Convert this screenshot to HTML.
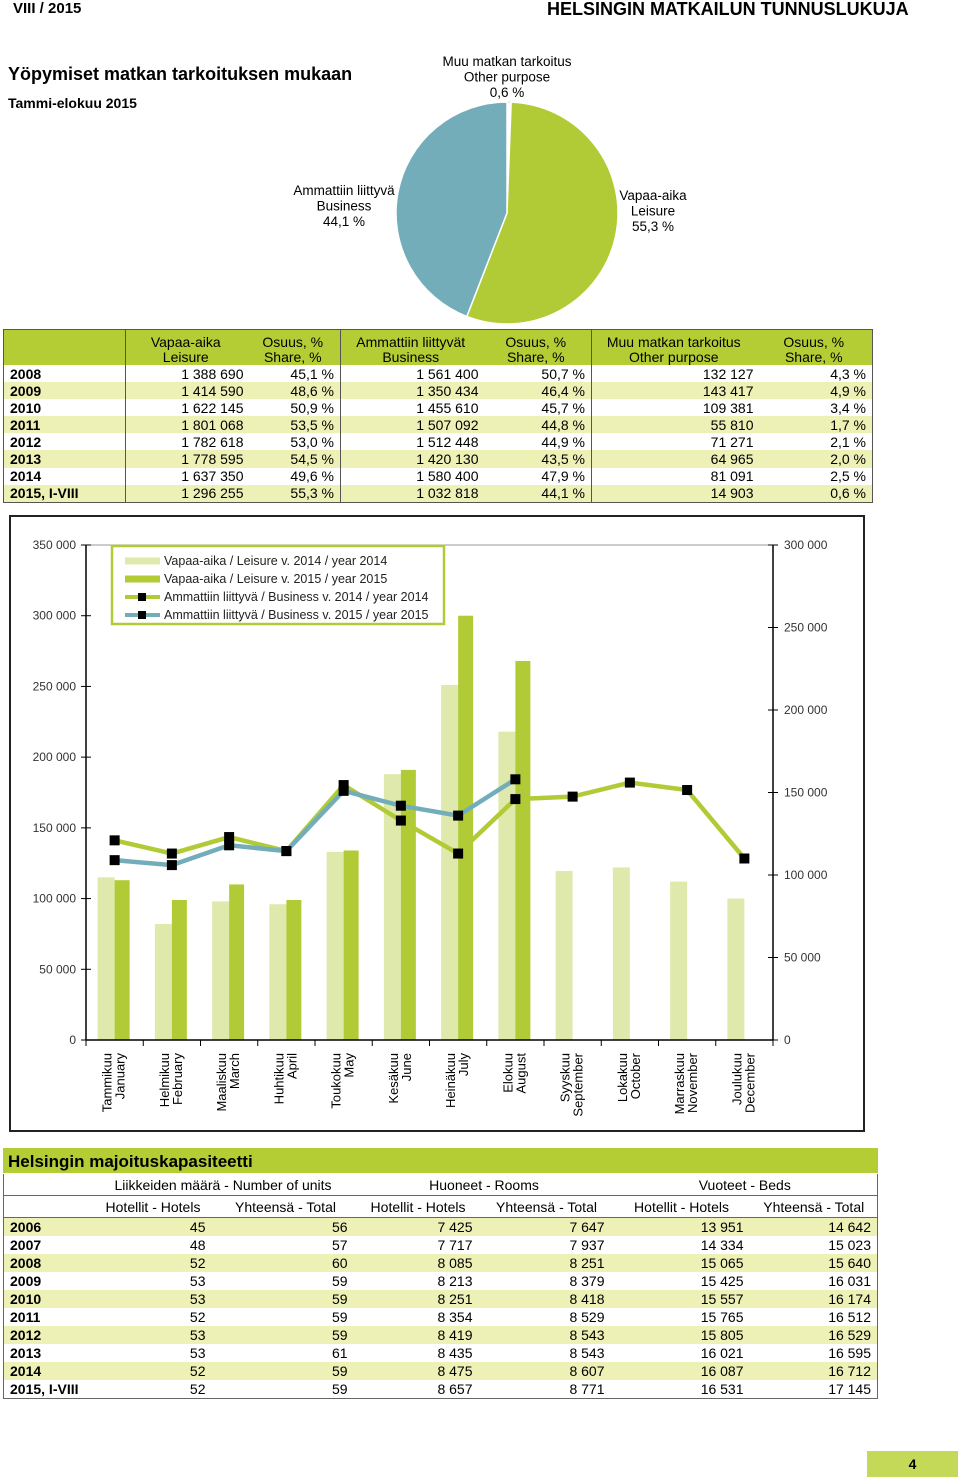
<!DOCTYPE html>
<html><head><meta charset="utf-8">
<style>
body{margin:0;width:960px;height:1484px;position:relative;background:#fff;font-family:"Liberation Sans",Arial,sans-serif;color:#000;overflow:hidden}
.abs{position:absolute}
table{border-collapse:collapse;table-layout:fixed;font-size:14px}
td{padding:0;white-space:nowrap}
.t1 td{height:17.1px;line-height:16px}
.t1 .hd td{background:#b5cd34;text-align:center;line-height:15px;height:35px;vertical-align:bottom}
.r{text-align:right}
.y{font-weight:bold;padding-left:6px}
.alt td{background:#eef1b6}
.bl{border-left:1px solid #555}
.t2 td{height:18px;line-height:18px}
</style></head><body>
<div class="abs" style="left:13px;top:0;font-weight:bold;font-size:15px">VIII / 2015</div>
<div class="abs" style="left:547px;top:-1px;font-weight:bold;font-size:18px">HELSINGIN MATKAILUN TUNNUSLUKUJA</div>
<div class="abs" style="left:8px;top:64px;font-weight:bold;font-size:18px">Yöpymiset matkan tarkoituksen mukaan</div>
<div class="abs" style="left:8px;top:95px;font-weight:bold;font-size:14px">Tammi-elokuu 2015</div>

<svg class="abs" style="left:0;top:0" width="960" height="1140">
<g id="pie"></g>
<g font-size="13.5" text-anchor="middle">
<text x="507" y="66">Muu matkan tarkoitus<tspan x="507" dy="15.5">Other purpose</tspan><tspan x="507" dy="15.5">0,6 %</tspan></text>
<text x="344" y="195">Ammattiin liittyvä<tspan x="344" dy="15.5">Business</tspan><tspan x="344" dy="15.5">44,1 %</tspan></text>
<text x="653" y="200">Vapaa-aika<tspan x="653" dy="15.5">Leisure</tspan><tspan x="653" dy="15.5">55,3 %</tspan></text>
</g>
<rect x="10" y="516" width="854" height="615" fill="none" stroke="#222" stroke-width="2"/>
<g id="chart"></g>
</svg>

<table class="abs t1" style="left:3px;top:329px;width:869px;border:1px solid #555">
<colgroup><col style="width:122px"><col style="width:120px"><col style="width:95px"><col style="width:140px"><col style="width:111px"><col style="width:164px"><col style="width:117px"></colgroup>
<tr class="hd"><td></td><td class="bl">Vapaa-aika<br>Leisure</td><td>Osuus, %<br>Share, %</td><td class="bl">Ammattiin liittyvät<br>Business</td><td>Osuus, %<br>Share, %</td><td class="bl">Muu matkan tarkoitus<br>Other purpose</td><td>Osuus, %<br>Share, %</td></tr>
<tr><td class="y">2008</td><td class="r bl" style="padding-right:2px">1 388 690</td><td class="r" style="padding-right:6px">45,1 %</td><td class="r bl" style="padding-right:2px">1 561 400</td><td class="r" style="padding-right:6px">50,7 %</td><td class="r bl" style="padding-right:2px">132 127</td><td class="r" style="padding-right:6px">4,3 %</td></tr>
<tr class="alt"><td class="y">2009</td><td class="r bl" style="padding-right:2px">1 414 590</td><td class="r" style="padding-right:6px">48,6 %</td><td class="r bl" style="padding-right:2px">1 350 434</td><td class="r" style="padding-right:6px">46,4 %</td><td class="r bl" style="padding-right:2px">143 417</td><td class="r" style="padding-right:6px">4,9 %</td></tr>
<tr><td class="y">2010</td><td class="r bl" style="padding-right:2px">1 622 145</td><td class="r" style="padding-right:6px">50,9 %</td><td class="r bl" style="padding-right:2px">1 455 610</td><td class="r" style="padding-right:6px">45,7 %</td><td class="r bl" style="padding-right:2px">109 381</td><td class="r" style="padding-right:6px">3,4 %</td></tr>
<tr class="alt"><td class="y">2011</td><td class="r bl" style="padding-right:2px">1 801 068</td><td class="r" style="padding-right:6px">53,5 %</td><td class="r bl" style="padding-right:2px">1 507 092</td><td class="r" style="padding-right:6px">44,8 %</td><td class="r bl" style="padding-right:2px">55 810</td><td class="r" style="padding-right:6px">1,7 %</td></tr>
<tr><td class="y">2012</td><td class="r bl" style="padding-right:2px">1 782 618</td><td class="r" style="padding-right:6px">53,0 %</td><td class="r bl" style="padding-right:2px">1 512 448</td><td class="r" style="padding-right:6px">44,9 %</td><td class="r bl" style="padding-right:2px">71 271</td><td class="r" style="padding-right:6px">2,1 %</td></tr>
<tr class="alt"><td class="y">2013</td><td class="r bl" style="padding-right:2px">1 778 595</td><td class="r" style="padding-right:6px">54,5 %</td><td class="r bl" style="padding-right:2px">1 420 130</td><td class="r" style="padding-right:6px">43,5 %</td><td class="r bl" style="padding-right:2px">64 965</td><td class="r" style="padding-right:6px">2,0 %</td></tr>
<tr><td class="y">2014</td><td class="r bl" style="padding-right:2px">1 637 350</td><td class="r" style="padding-right:6px">49,6 %</td><td class="r bl" style="padding-right:2px">1 580 400</td><td class="r" style="padding-right:6px">47,9 %</td><td class="r bl" style="padding-right:2px">81 091</td><td class="r" style="padding-right:6px">2,5 %</td></tr>
<tr class="alt"><td class="y">2015, I-VIII</td><td class="r bl" style="padding-right:2px">1 296 255</td><td class="r" style="padding-right:6px">55,3 %</td><td class="r bl" style="padding-right:2px">1 032 818</td><td class="r" style="padding-right:6px">44,1 %</td><td class="r bl" style="padding-right:2px">14 903</td><td class="r" style="padding-right:6px">0,6 %</td></tr>
</table>

<div class="abs" style="left:3px;top:1148px;width:870px;height:25px;background:#b5cd34;font-weight:bold;font-size:17px;line-height:28px;padding-left:5px">Helsingin majoituskapasiteetti</div>
<table class="abs t2" id="t2" style="left:3px;top:1174px;width:874px;border-left:1px solid #666;border-right:1px solid #666;border-bottom:1px solid #666">
<colgroup><col style="width:87px"><col style="width:125px"><col style="width:140px"><col style="width:125px"><col style="width:132px"><col style="width:138px"><col style="width:127px"></colgroup>
<tr style="border-bottom:1px solid #666"><td style="height:21px"></td><td colspan="2" style="text-align:center">Liikkeiden määrä - Number of units</td><td colspan="2" style="text-align:center">Huoneet - Rooms</td><td colspan="2" style="text-align:center">Vuoteet - Beds</td></tr>
<tr style="border-bottom:1px solid #666"><td style="height:21px"></td><td style="text-align:center">Hotellit - Hotels</td><td style="text-align:center">Yhteensä - Total</td><td style="text-align:center">Hotellit - Hotels</td><td style="text-align:center">Yhteensä - Total</td><td style="text-align:center">Hotellit - Hotels</td><td style="text-align:center">Yhteensä - Total</td></tr>
</table>
<div class="abs" style="left:867px;top:1451px;width:91px;height:26px;background:#c3d957;text-align:center;font-weight:bold;font-size:14px;line-height:27px">4</div>

<script>
const capRows=[["2006","45","56","7 425","7 647","13 951","14 642"],["2007","48","57","7 717","7 937","14 334","15 023"],["2008","52","60","8 085","8 251","15 065","15 640"],["2009","53","59","8 213","8 379","15 425","16 031"],["2010","53","59","8 251","8 418","15 557","16 174"],["2011","52","59","8 354","8 529","15 765","16 512"],["2012","53","59","8 419","8 543","15 805","16 529"],["2013","53","61","8 435","8 543","16 021","16 595"],["2014","52","59","8 475","8 607","16 087","16 712"],["2015, I-VIII","52","59","8 657","8 771","16 531","17 145"]];
const pads=[0,10,8,8,8,7,6];
const t2=document.getElementById('t2');
capRows.forEach((r,i)=>{const tr=document.createElement('tr');


if(i%2==0)tr.className='alt';
r.forEach((v,j)=>{const td=document.createElement('td');td.textContent=v;
if(j==0)td.className='y';else{td.className='r';td.style.paddingRight=pads[j]+'px';}
tr.appendChild(td);});t2.appendChild(tr);});

const NS='http://www.w3.org/2000/svg';
function mk(p,tag,a){const e=document.createElementNS(NS,tag);for(const k in a)e.setAttribute(k,a[k]);p.appendChild(e);return e;}

const pieLabels=["Other","Leisure","Business"];
const pieShares=[0.6,55.3,44.1];
const pieColors=["#ffffff","#b0cb35","#74adba"];
const pie=document.getElementById('pie');
let acc=0;const cx=507,cy=213,R=111;
pieShares.forEach((s,i)=>{const a0=acc/100*2*Math.PI;acc+=s;const a1=acc/100*2*Math.PI;
const x0=cx+R*Math.sin(a0),y0=cy-R*Math.cos(a0),x1=cx+R*Math.sin(a1),y1=cy-R*Math.cos(a1);
const p=mk(pie,'path',{d:`M${cx},${cy}L${x0},${y0}A${R},${R} 0 ${s>50?1:0} 1 ${x1},${y1}Z`,fill:pieColors[i],stroke:i==0?'#bbb':'#fff','stroke-width':i==0?0.6:1.5});

});

const months=[["Tammikuu","January"],["Helmikuu","February"],["Maaliskuu","March"],["Huhtikuu","April"],["Toukokuu","May"],["Kesäkuu","June"],["Heinäkuu","July"],["Elokuu","August"],["Syyskuu","September"],["Lokakuu","October"],["Marraskuu","November"],["Joulukuu","December"]];
const leisure2014=[115000,82000,98000,96000,133000,188000,251000,218000,119500,122000,112000,100000];
const leisure2015=[113000,99000,110000,99000,134000,191000,300000,268000];
const business2014=[121000,113000,123000,114500,154500,133000,113000,146000,147500,156000,151500,110000];
const business2015=[109000,106000,118000,114500,151000,142000,136000,158000];
const leftTicks=[0,50000,100000,150000,200000,250000,300000,350000];
const rightTicks=[0,50000,100000,150000,200000,250000,300000];

const X0=86,X1=773,Y0=1040,YT=545;
const step=(X1-X0)/12;
const xc=i=>X0+step*(i+0.5);
const yL=v=>Y0-(Y0-YT)*v/350000;
const yR=v=>Y0-(Y0-YT)*v/300000;
const fmt=v=>v==0?'0':String(v).replace(/\B(?=(\d{3})+$)/g,' ');
const ch=document.getElementById('chart');

leisure2014.forEach((v,i)=>{const r=mk(ch,'rect',{x:xc(i)-17,y:yL(v),width:17,height:Y0-yL(v),fill:'#dfe9ac'});

});
leisure2015.forEach((v,i)=>{const r=mk(ch,'rect',{x:xc(i),y:yL(v),width:15,height:Y0-yL(v),fill:'#b0cb35'});

});

mk(ch,'line',{x1:X0,y1:YT,x2:X1,y2:YT,stroke:'#999','stroke-width':1});
mk(ch,'line',{x1:X0,y1:YT,x2:X0,y2:Y0,stroke:'#000','stroke-width':1.5});
mk(ch,'line',{x1:X1,y1:YT,x2:X1,y2:Y0,stroke:'#000','stroke-width':1.5});
mk(ch,'line',{x1:X0,y1:Y0,x2:X1,y2:Y0,stroke:'#000','stroke-width':1.5});
leftTicks.forEach(v=>{mk(ch,'line',{x1:X0-5,y1:yL(v),x2:X0+5,y2:yL(v),stroke:'#000'});
const t=mk(ch,'text',{x:76,y:yL(v)+4,'text-anchor':'end','font-size':12,fill:'#333'});t.textContent=fmt(v);

});
rightTicks.forEach(v=>{mk(ch,'line',{x1:X1-5,y1:yR(v),x2:X1+5,y2:yR(v),stroke:'#000'});
const t=mk(ch,'text',{x:784,y:yR(v)+4,'font-size':12,fill:'#333'});t.textContent=fmt(v);

});
for(let i=0;i<=12;i++)mk(ch,'line',{x1:X0+step*i,y1:Y0,x2:X0+step*i,y2:Y0+6,stroke:'#000'});
months.forEach((m,i)=>{const t=mk(ch,'text',{transform:`translate(${xc(i)-3},1053) rotate(-90)`,'text-anchor':'end','font-size':13});


const a=mk(t,'tspan',{x:0,y:0});a.textContent=m[0];const b=mk(t,'tspan',{x:0,y:13});b.textContent=m[1];});

function line(vals,color,name){const pts=vals.map((v,i)=>xc(i)+','+yR(v)).join(' ');
const p=mk(ch,'polyline',{points:pts,fill:'none',stroke:color,'stroke-width':4.5,'stroke-linejoin':'round'});


vals.forEach((v,i)=>{const m=mk(ch,'rect',{x:xc(i)-5,y:yR(v)-5,width:10,height:10,fill:'#000'});

});}
line(business2014,'#b0cb35','line-business-2014');
line(business2015,'#74adba','line-business-2015');

const lg=mk(ch,'g',{});


mk(lg,'rect',{x:112,y:546,width:332,height:78,fill:'#fff',stroke:'#b0cb35','stroke-width':2.5});
const legTexts=["Vapaa-aika / Leisure v. 2014 / year 2014","Vapaa-aika / Leisure v. 2015 / year 2015","Ammattiin liittyvä / Business v. 2014 / year 2014","Ammattiin liittyvä / Business v. 2015 / year 2015"];
legTexts.forEach((s,i)=>{const y=561+i*18;
if(i<2)mk(lg,'rect',{x:125,y:y-3.5,width:35,height:7,fill:i==0?'#dfe9ac':'#b0cb35'});
else{mk(lg,'line',{x1:125,y1:y,x2:160,y2:y,stroke:i==2?'#b0cb35':'#74adba','stroke-width':4});mk(lg,'rect',{x:138,y:y-4,width:8,height:8,fill:'#000'});}
const t=mk(lg,'text',{x:164,y:y+4,'font-size':12.5,fill:'#222'});t.textContent=s;

});
</script>
</body></html>
